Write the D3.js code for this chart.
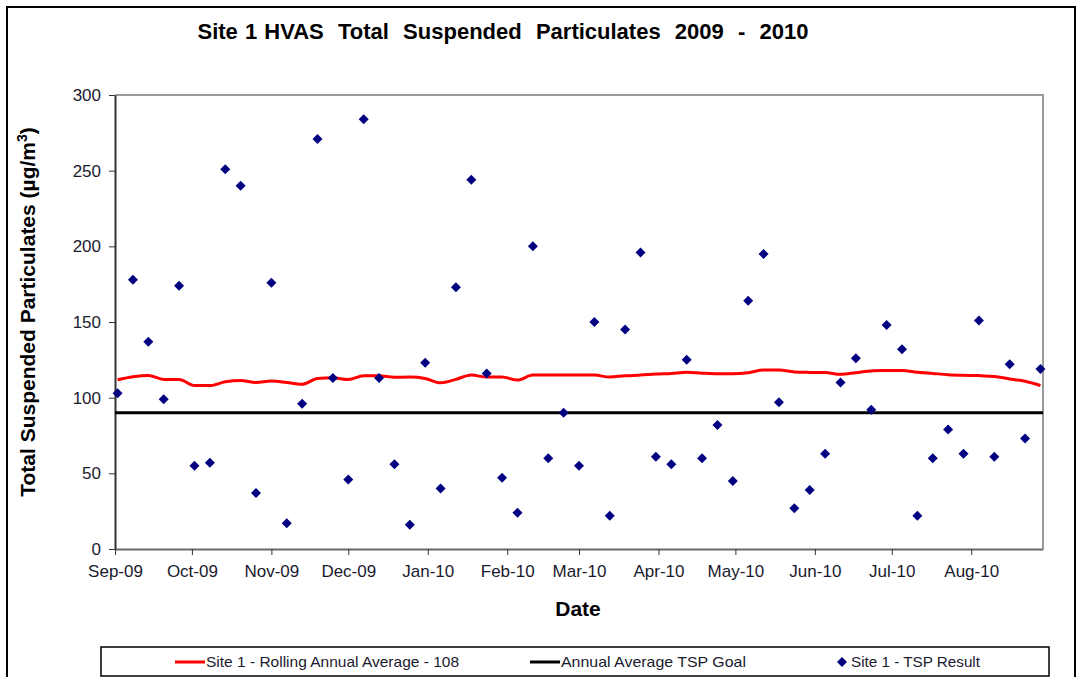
<!DOCTYPE html>
<html lang="en">
<head>
<meta charset="UTF-8">
<title>Site 1 HVAS Total Suspended Particulates 2009 - 2010</title>
<style>
  body { margin: 0; background: #fff; }
  svg text { font-family: "Liberation Sans", Arial, sans-serif; }
  .tick text { font-size: 17px; fill: #1a1a2e; }
</style>
</head>
<body>
<div id="chart"></div>
<script src="https://d3js.org/d3.v7.min.js"></script>
<script>
// TSP results (µg/m³), one sample every 6 days from 2 Sep 2009
const tspResult = [103,178,137,99,174,55,57,251,240,37,176,17,96,271,113,46,284,113,56,16,
  123,40,173,244,116,47,24,200,60,90,55,150,22,145,196,61,56,125,60,82,
  45,164,195,97,27,39,63,110,126,92,148,132,22,60,79,63,151,61,122,73,119];

// rolling annual average at each sample
const rollingAvg = [111.8,113.8,114.7,112,112,108,108,110.5,111.4,110,111,110,108.8,112.7,113.1,112,114.5,114.5,113.5,113.6,
  112.7,109.8,112.1,114.9,113.6,113.6,111.6,114.9,114.9,114.9,114.9,114.9,113.6,114.5,114.9,115.6,116,116.8,116.2,115.8,
  115.8,116.5,118.2,118.2,117,116.7,116.6,115.4,116.5,117.7,117.9,118,116.8,116,115.2,114.8,114.6,114,112.4,110.8,108];

const goal = 90;
const yTicks = [0, 50, 100, 150, 200, 250, 300];
const monthLabels = ["Sep-09","Oct-09","Nov-09","Dec-09","Jan-10","Feb-10","Mar-10","Apr-10","May-10","Jun-10","Jul-10","Aug-10"];

const firstSample = new Date(2009, 8, 2);
const sampleDates = tspResult.map((d, i) => d3.timeDay.offset(firstSample, 6 * i));
const monthStarts = monthLabels.map((m, i) => new Date(2009, 8 + i, 1));

const width = 1077, height = 677;
const svg = d3.select("#chart").append("svg")
  .attr("width", width)
  .attr("height", height);

// outer chart border
svg.append("rect")
  .attr("x", 7).attr("y", 7)
  .attr("width", 1068).attr("height", 700)
  .attr("fill", "none").attr("stroke", "#000").attr("stroke-width", 2);

const x = d3.scaleTime()
  .domain([new Date(2009, 8, 1), new Date(2010, 7, 29)])
  .range([115, 1043]);
const y = d3.scaleLinear().domain([0, 300]).range([549, 95]);

// plot frame (top + right grey)
svg.append("path")
  .attr("d", `M${x.range()[0]},${y(300)}H${x.range()[1]}V${y(0)}`)
  .attr("fill", "none").attr("stroke", "#9a9a9a").attr("stroke-width", 2);

// axes
const xAxis = svg.append("g")
  .attr("transform", `translate(0,${y(0)})`)
  .call(d3.axisBottom(x).tickValues(monthStarts)
    .tickFormat((d, i) => monthLabels[i]).tickSize(6).tickSizeOuter(0));
xAxis.select(".domain").attr("stroke", "#6a6a6a").attr("stroke-width", 2);
xAxis.selectAll(".tick line").attr("stroke", "#333");
xAxis.selectAll(".tick text").attr("dy", "1.1em");

const yAxis = svg.append("g")
  .attr("transform", `translate(${x.range()[0]},0)`)
  .call(d3.axisLeft(y).tickValues(yTicks).tickSize(6).tickSizeOuter(0));
yAxis.select(".domain").attr("stroke", "#333").attr("stroke-width", 2);
yAxis.selectAll(".tick line").attr("stroke", "#333");
yAxis.selectAll(".tick text").attr("x", -14);

// goal line
svg.append("line")
  .attr("x1", x.range()[0]).attr("x2", x.range()[1])
  .attr("y1", y(goal)).attr("y2", y(goal))
  .attr("stroke", "#000").attr("stroke-width", 3);

// rolling average
const line = d3.line()
  .x((d, i) => x(sampleDates[i]))
  .y(d => y(d))
  .curve(d3.curveMonotoneX);
svg.append("path")
  .datum(rollingAvg)
  .attr("d", line)
  .attr("fill", "none").attr("stroke", "#ff0000").attr("stroke-width", 3);

// TSP results
const diamond = "M0,-5L5,0L0,5L-5,0Z";
svg.append("g").selectAll("path")
  .data(tspResult)
  .join("path")
  .attr("d", diamond)
  .attr("transform", (d, i) => `translate(${x(sampleDates[i])},${y(d)})`)
  .attr("fill", "#000080");

// titles
svg.append("text")
  .attr("x", 503).attr("y", 39)
  .attr("text-anchor", "middle")
  .attr("font-size", 22).attr("font-weight", "bold")
  .style("white-space", "pre")
  .attr("word-spacing", 1)
  .text("Site 1 HVAS  Total  Suspended  Particulates  2009  -  2010");

svg.append("text")
  .attr("x", 578).attr("y", 616)
  .attr("text-anchor", "middle")
  .attr("font-size", 21).attr("font-weight", "bold")
  .text("Date");

const yl = svg.append("text")
  .attr("transform", "translate(35,312) rotate(-90)")
  .attr("text-anchor", "middle")
  .attr("font-size", 21).attr("font-weight", "bold");
yl.append("tspan").text("Total Suspended Particulates (µg/m");
yl.append("tspan").attr("font-size", 14).attr("dy", -8).text("3");
yl.append("tspan").attr("dy", 8).text(")");

// legend
const lg = svg.append("g");
lg.append("rect")
  .attr("x", 101).attr("y", 647)
  .attr("width", 948).attr("height", 29)
  .attr("fill", "#fff").attr("stroke", "#000").attr("stroke-width", 1.5);

const legendItems = [
  { label: "Site 1 - Rolling Annual Average - 108", type: "line", color: "#ff0000", x: 175, len: 253 },
  { label: "Annual Average  TSP Goal", type: "line", color: "#000", x: 530, len: 185 },
  { label: "Site 1 - TSP Result", type: "marker", color: "#000080", x: 836, len: 129 }
];
legendItems.forEach(it => {
  if (it.type === "line") {
    lg.append("line")
      .attr("x1", it.x).attr("x2", it.x + 30)
      .attr("y1", 662).attr("y2", 662)
      .attr("stroke", it.color).attr("stroke-width", 3);
  } else {
    lg.append("path").attr("d", diamond)
      .attr("transform", `translate(${it.x + 6},662)`)
      .attr("fill", it.color);
  }
  lg.append("text")
    .attr("x", it.type === "line" ? it.x + 31 : it.x + 15)
    .attr("y", 667)
    .attr("font-size", 15).attr("fill", "#1a1a2e")
    .attr("textLength", it.len).attr("lengthAdjust", "spacingAndGlyphs")
    .text(it.label);
});
</script>
</body>
</html>
